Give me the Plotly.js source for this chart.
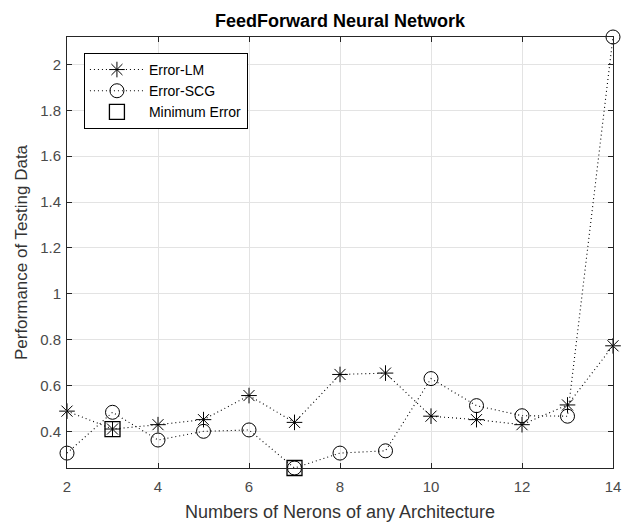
<!DOCTYPE html>
<html>
<head>
<meta charset="utf-8">
<script src="https://cdn.plot.ly/plotly-3.0.1.min.js"></script>
<style>html,body{margin:0;padding:0;background:#fff;}#chart{width:625px;height:522px;}</style>
</head>
<body>
<div id="chart"></div>
<script>
const neurons = [2, 3, 4, 5, 6, 7, 8, 9, 10, 11, 12, 13, 14];
const errorLM = [0.488, 0.41, 0.429, 0.451, 0.556, 0.439, 0.648, 0.654, 0.466, 0.451, 0.429, 0.515, 0.773];
const errorSCG = [0.305, 0.483, 0.362, 0.40, 0.406, 0.24, 0.305, 0.315, 0.63, 0.512, 0.468, 0.466, 2.12];
const minX = [3, 7];
const minY = [0.41, 0.24];
const xTicks = [2, 4, 6, 8, 10, 12, 14];
const yTicks = [0.4, 0.6, 0.8, 1, 1.2, 1.4, 1.6, 1.8, 2];

const axisColor = '#262626';
const dotted = {color: '#000', width: 1.1, dash: '1px,3px'};
const traces = [
  {x: neurons, y: errorLM, name: 'Error-LM', mode: 'lines+markers', cliponaxis: false,
   line: dotted,
   marker: {symbol: 'asterisk-open', size: 13, color: '#000', line: {color: '#000', width: 1}}},
  {x: neurons, y: errorSCG, name: 'Error-SCG', mode: 'lines+markers', cliponaxis: false,
   line: dotted,
   marker: {symbol: 'circle-open', size: 14, color: '#000', line: {color: '#000', width: 1}}},
  {x: minX, y: minY, name: 'Minimum Error', mode: 'markers', cliponaxis: false,
   marker: {symbol: 'square-open', size: 15, color: '#000', line: {color: '#000', width: 1.3}}}
];

const layout = {
  width: 625, height: 522,
  margin: {l: 67, r: 12, t: 37, b: 54},
  paper_bgcolor: '#fff', plot_bgcolor: '#fff',
  font: {family: 'Liberation Sans, Arial, sans-serif', size: 14, color: axisColor},
  title: {text: '<b>FeedForward Neural Network</b>', x: 0.544, xanchor: 'center', y: 0.961, yanchor: 'middle',
          font: {size: 18, color: '#000'}},
  xaxis: {range: [2, 14], tickvals: xTicks, ticks: 'inside', ticklen: 5, tickcolor: axisColor,
          showline: true, linecolor: axisColor, linewidth: 1, mirror: 'ticks',
          showgrid: true, gridcolor: '#e3e3e3', zeroline: false,
          tickfont: {size: 15, color: '#4a4a4a'}, ticklabelstandoff: 5,
          title: {text: 'Numbers of Nerons of any Architecture', font: {size: 18, color: '#333'}, standoff: 13}},
  yaxis: {range: [0.24, 2.12], tickvals: yTicks, ticks: 'inside', ticklen: 5, tickcolor: axisColor,
          showline: true, linecolor: axisColor, linewidth: 1, mirror: 'ticks',
          showgrid: true, gridcolor: '#e3e3e3', zeroline: false,
          tickfont: {size: 15, color: '#4a4a4a'}, ticklabelstandoff: 2,
          title: {text: 'Performance of Testing Data', font: {size: 17, color: '#333'}, standoff: 8}},
  showlegend: true,
  legend: {x: 0.031, y: 0.963, xanchor: 'left', yanchor: 'top', bgcolor: '#fff',
           bordercolor: '#000', borderwidth: 1, font: {size: 14, color: '#000'},
           tracegroupgap: 0, itemwidth: 54}
};

Plotly.newPlot('chart', traces, layout, {displayModeBar: false, staticPlot: true});
</script>
</body>
</html>
